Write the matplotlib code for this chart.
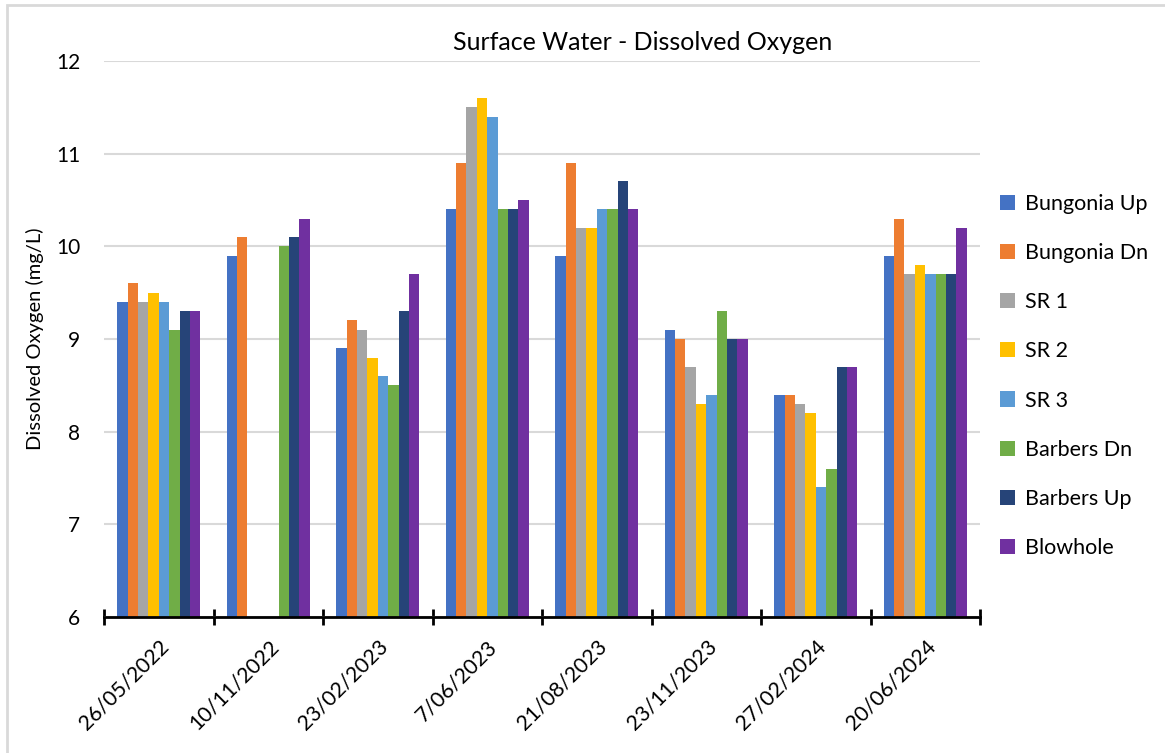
import matplotlib.pyplot as plt
import numpy as np
from matplotlib.patches import Rectangle

plt.rcParams['font.family'] = ['Lato', 'DejaVu Sans']

# Data
dates = ['26/05/2022', '10/11/2022', '23/02/2023', '7/06/2023',
         '21/08/2023', '23/11/2023', '27/02/2024', '20/06/2024']
sites = ['Bungonia Up', 'Bungonia Dn', 'SR 1', 'SR 2', 'SR 3',
         'Barbers Dn', 'Barbers Up', 'Blowhole']

bungonia_up = [9.4, 9.9, 8.9, 10.4, 9.9, 9.1, 8.4, 9.9]
bungonia_dn = [9.6, 10.1, 9.2, 10.9, 10.9, 9.0, 8.4, 10.3]
sr1 = [9.4, np.nan, 9.1, 11.5, 10.2, 8.7, 8.3, 9.7]
sr2 = [9.5, np.nan, 8.8, 11.6, 10.2, 8.3, 8.2, 9.8]
sr3 = [9.4, np.nan, 8.6, 11.4, 10.4, 8.4, 7.4, 9.7]
barbers_dn = [9.1, 10.0, 8.5, 10.4, 10.4, 9.3, 7.6, 9.7]
barbers_up = [9.3, 10.1, 9.3, 10.4, 10.7, 9.0, 8.7, 9.7]
blowhole = [9.3, 10.3, 9.7, 10.5, 10.4, 9.0, 8.7, 10.2]

series = [bungonia_up, bungonia_dn, sr1, sr2, sr3, barbers_dn, barbers_up, blowhole]
colors = ['#4472C4', '#ED7D31', '#A5A5A5', '#FFC000',
          '#5B9BD5', '#70AD47', '#264478', '#7030A0']

fig = plt.figure(figsize=(11.65, 7.53), dpi=100)
ax = fig.add_axes([104 / 1165, 1 - 617 / 753, 876 / 1165, 556 / 753])

x = np.arange(len(dates))
width = 0.095
n = len(series)
for i, (vals, c, name) in enumerate(zip(series, colors, sites)):
    offs = (i - (n - 1) / 2) * width
    ax.bar(x + offs, np.array(vals) - 6, width=width, bottom=6,
           color=c, label=name, zorder=3)

ax.set_xlim(-0.5, len(dates) - 0.5)
ax.set_ylim(6, 12)
ax.set_yticks(range(6, 13))
ax.grid(axis='y', color='#d9d9d9', linewidth=1.5, zorder=0)
ax.tick_params(axis='y', length=0, labelsize=15, pad=17)

# x axis: ticks at category boundaries, labels at centres
ax.set_xticks(np.arange(-0.5, len(dates)), minor=False)
ax.set_xticklabels([])
ax.tick_params(axis='x', which='major', direction='inout', length=12,
               width=2, color='black')
ax.set_xticks(x, minor=True)
ax.set_xticklabels(dates, minor=True, rotation=45, ha='right',
                   rotation_mode='anchor', fontsize=15.3)
ax.tick_params(axis='x', which='minor', length=0, pad=14)

for s in ['left', 'right', 'top']:
    ax.spines[s].set_visible(False)
ax.spines['bottom'].set_linewidth(2)
ax.spines['bottom'].set_zorder(4)

ax.set_ylabel('Dissolved Oxygen (mg/L)', fontsize=14.5)
ax.yaxis.set_label_coords(-0.068, 0.5)

fig.text(643 / 1165, 1 - 42 / 753, 'Surface Water - Dissolved Oxygen',
         ha='center', va='center', fontsize=18)

ax.legend(loc='center left', bbox_to_anchor=(981 / 1165, 1 - 376 / 753),
          bbox_transform=fig.transFigure, frameon=False, fontsize=15.5,
          labelspacing=1.35, handlelength=0.7, handleheight=0.7,
          handletextpad=0.45)

# chart border
fig.patches.append(Rectangle((7 / 1165, -0.01), 1.0, 1 - 5 / 753 + 0.01,
                             transform=fig.transFigure, fill=False,
                             edgecolor='#d9d9d9', linewidth=2))

fig.savefig('out.png', dpi=100)
